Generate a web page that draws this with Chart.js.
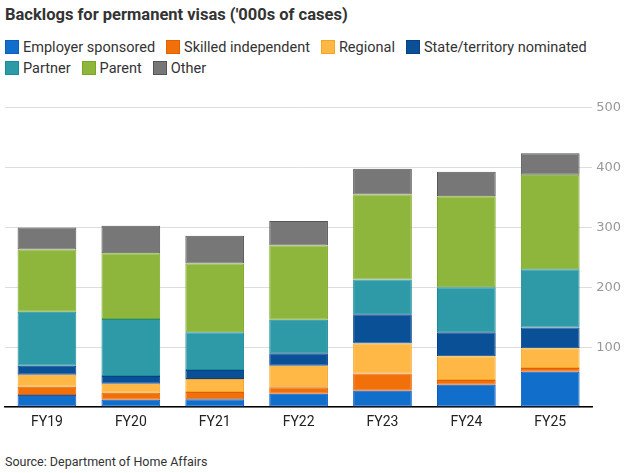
<!DOCTYPE html>
<html>
<head>
<meta charset="utf-8">
<script src="https://cdn.jsdelivr.net/npm/chart.js@4.4.1/dist/chart.umd.min.js"></script>
<style>
  body { margin: 0; background: #fff; }
  #wrap { position: relative; width: 625px; height: 473px; font-family: Roboto, sans-serif; color: #333; }
  #title { position: absolute; left: 5px; top: 5px; font-size: 16.5px; font-weight: bold; color: #333; }
  #legend { position: absolute; left: 5px; top: 39px; width: 600px; display: flex; flex-wrap: wrap; row-gap: 5px; font-size: 14.5px; }
  .item { display: flex; align-items: center; margin-right: 11px; height: 16px; }
  .box { width: 14px; height: 14px; margin-right: 4px; box-sizing: border-box; border: 1px solid; }
  #chartbox { position: absolute; left: 0; top: 96px; width: 625px; height: 341px; }
  #source { position: absolute; left: 5px; top: 454px; font-size: 12.5px; color: #333; }
</style>
</head>
<body>
<div id="wrap">
  <div id="title">Backlogs for permanent visas ('000s of cases)</div>
  <div id="legend"></div>
  <div id="chartbox"><canvas id="chart"></canvas></div>
  <div id="source">Source: Department of Home Affairs</div>
</div>
<script>
/* ============================
   DATA ('000s of cases)
============================ */
const years = ['FY19', 'FY20', 'FY21', 'FY22', 'FY23', 'FY24', 'FY25'];

const employerSponsored = [20, 12, 13, 22, 27, 37, 59];
const skilledIndependent = [14, 12, 12, 11, 29, 8, 6];
const regional = [20, 15, 22, 36, 50, 40, 33];
const stateNominated = [15, 13, 15, 21, 49, 40, 35];
const partner = [90, 95, 63, 56, 58, 75, 97];
const parent = [104, 110, 115, 124, 142, 152, 158];
const other = [37, 46, 46, 41, 43, 41, 36];

const yTicks = [0, 100, 200, 300, 400, 500];

/* ============================
   SERIES SETUP
============================ */
const series = [
    { label: 'Employer sponsored', data: employerSponsored, color: '#116ecb', border: '#0a5cc0' },
    { label: 'Skilled independent', data: skilledIndependent, color: '#f2700a', border: '#e06000' },
    { label: 'Regional', data: regional, color: '#ffb846', border: '#f5a623' },
    { label: 'State/territory nominated', data: stateNominated, color: '#095096', border: '#06408a' },
    { label: 'Partner', data: partner, color: '#2e9aa8', border: '#1a8c98' },
    { label: 'Parent', data: parent, color: '#8fb63c', border: '#78a820' },
    { label: 'Other', data: other, color: '#777777', border: '#555555' }
];

// HTML legend
const legend = document.getElementById('legend');
series.forEach(s => {
    const item = document.createElement('div');
    item.className = 'item';
    item.innerHTML = `<span class="box" style="background:${s.color};border-color:${s.border}"></span>${s.label}`;
    legend.appendChild(item);
});

/* ============================
   CHART
============================ */
new Chart(document.getElementById('chart'), {
    type: 'bar',
    data: {
        labels: years,
        datasets: series.map(s => ({
            label: s.label,
            data: s.data,
            backgroundColor: s.color,
            borderColor: s.border,
            borderWidth: 1,
            borderSkipped: false
        }))
    },
    options: {
        responsive: true,
        maintainAspectRatio: false,
        animation: false,
        layout: { padding: { left: 5, top: 10, right: 0, bottom: 0 } },
        plugins: { legend: { display: false }, tooltip: { enabled: false } },
        datasets: { bar: { categoryPercentage: 1, barPercentage: 0.7 } },
        scales: {
            x: {
                stacked: true,
                grid: { display: false, drawTicks: false },
                border: { display: true, color: '#000', width: 1.5 },
                ticks: { color: '#222', font: { family: 'Roboto', size: 14 }, padding: 7 },
                afterFit: scale => { scale.height = 30; } // fixed axis band keeps the baseline put
            },
            y: {
                stacked: true,
                position: 'right',
                min: 0,
                max: 500,
                afterBuildTicks: axis => { axis.ticks = yTicks.map(v => ({ value: v })); },
                grid: { color: '#dddddd', lineWidth: 1, drawTicks: false },
                border: { display: false },
                ticks: {
                    color: '#999',
                    font: { family: 'DejaVu Sans', size: 13 },
                    padding: 4,
                    callback: v => (v === 0 ? '' : v)
                }
            }
        }
    }
});
</script>
</body>
</html>
